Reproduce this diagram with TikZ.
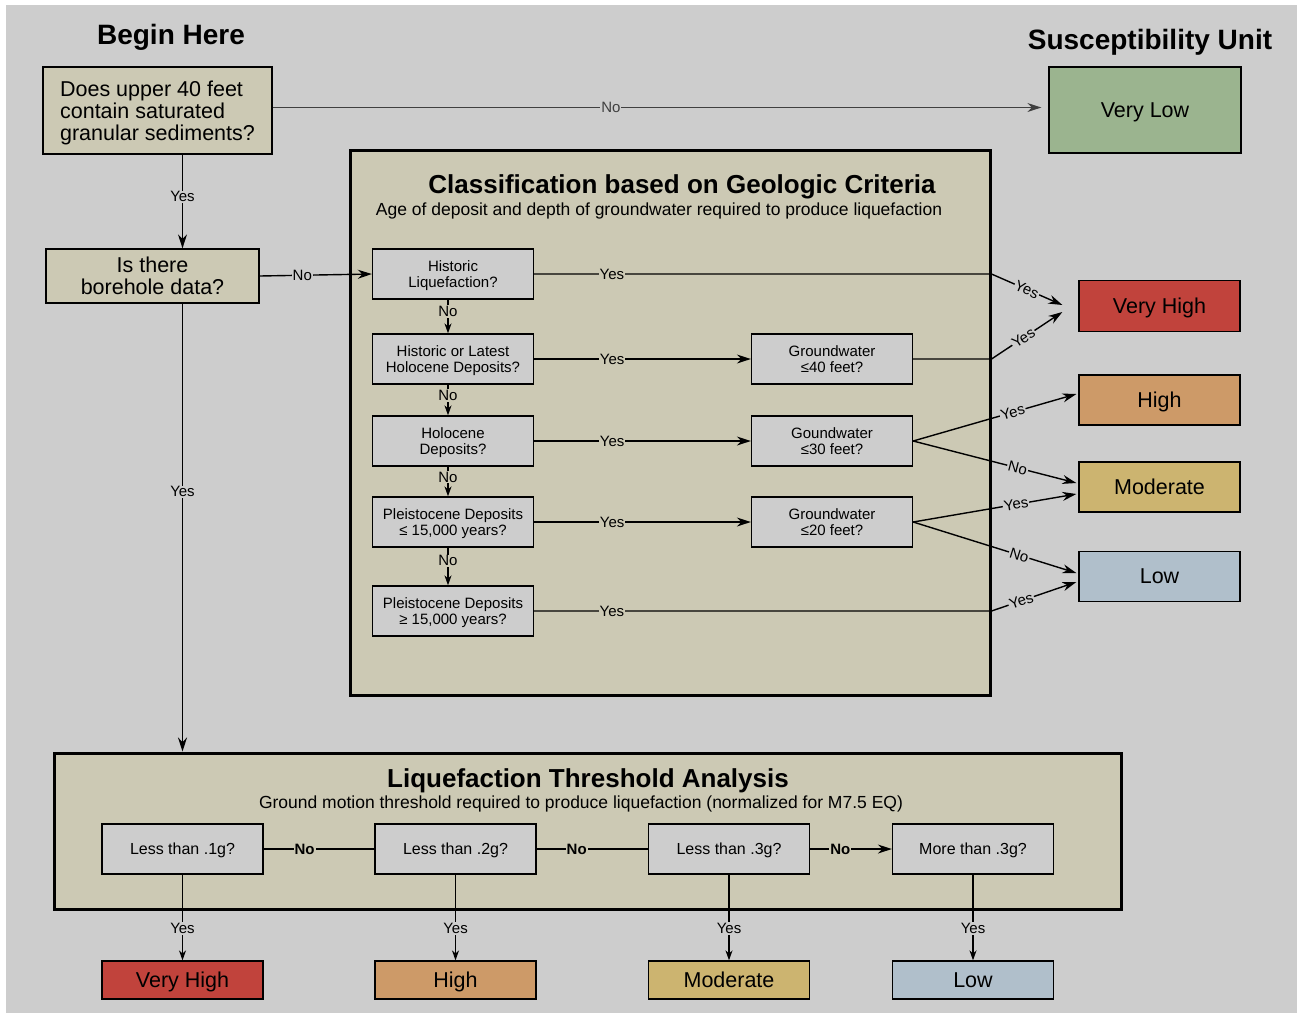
\documentclass[tikz,border=0pt]{standalone}
\usepackage{fontspec}
\setmainfont{Liberation Sans}
\usetikzlibrary{arrows.meta}
\definecolor{paper}{RGB}{205,205,205}
\definecolor{sand}{RGB}{204,201,180}
\definecolor{verylow}{RGB}{155,180,143}
\definecolor{veryhigh}{RGB}{193,67,60}
\definecolor{high}{RGB}{205,154,104}
\definecolor{moderate}{RGB}{204,180,112}
\definecolor{low}{RGB}{176,191,203}
\tikzset{
	heading/.style={
		font=\bfseries\fontsize{28}{30}\selectfont,
	},
	panel/.style={
		draw,
		line width=3pt,
		fill=sand,
		inner sep=0pt,
	},
	panelhead/.style={
		font=\bfseries\fontsize{26}{28}\selectfont,
	},
	panelsub/.style={
		font=\fontsize{17.5}{19}\selectfont,
	},
	start/.style={
		draw,
		line width=1.3pt,
		fill=sand,
		inner sep=0pt,
		text depth=0pt,
		align=center,
		font=\fontsize{21.5}{22}\selectfont,
	},
	outcome/.style={
		draw,
		line width=1.3pt,
		minimum width=161,
		minimum height=50,
		inner sep=0pt,
		text depth=0pt,
		font=\fontsize{21.5}{24}\selectfont,
	},
	question/.style={
		draw,
		line width=1.3pt,
		fill=paper,
		minimum width=161,
		minimum height=50,
		inner sep=0pt,
		text depth=0pt,
		align=center,
		font=\fontsize{15}{16}\selectfont,
	},
	gquestion/.style={
		question,
		font=\fontsize{16}{18}\selectfont,
	},
	line/.style={
		line width=1.4pt,
	},
	arr/.style={
		line width=1.4pt,
		-{Stealth[length=14pt,width=9pt]},
	},
	smallarr/.style={
		line width=1.4pt,
		-{Stealth[length=10pt,width=7pt]},
	},
	lbl/.style={
		fill=paper,
		inner sep=1pt,
		font=\fontsize{15}{16}\selectfont,
	},
	lblin/.style={
		lbl,
		fill=sand,
	},
}

\begin{document}
\begin{tikzpicture}[x=1pt,y=-1pt]
	\useasboundingbox (0,0) rectangle (1297,1013);
	\fill[white] (0,0) rectangle (1297,1013);
	\fill[paper] (6,5) rectangle (1297,1013);

	\node[heading] 			(begin) at (171,37) {Begin Here};
	\node[heading] 			(unit) at (1150,42) {Susceptibility Unit};

	\node[start,align=left,minimum width=229,minimum height=87] (upper) at (157.5,110.5) {Does upper 40 feet\\contain saturated\\granular sediments?};
	\node[start,minimum width=213,minimum height=54] (bore) at (152.5,276) {Is there\\borehole data?};
	\node[outcome,fill=verylow,minimum width=192,minimum height=86] (vlow) at (1145,110) {Very Low};

	\draw[arr,black!75] 	([yshift=3pt]upper.east) -- node[lbl,pos=0.44] {No} ([xshift=-7pt,yshift=3pt]upper.east -| vlow.west);
	\draw[arr] 					([xshift=25pt]upper.south) -- node[lbl,pos=0.45] {Yes} ([xshift=30pt]bore.north);

	% geologic criteria
	\node[panel,minimum width=640,minimum height=545] (geo) at (670,422.5) {};
	\node[panelhead] 		(geohead) at (682,187) {Classification based on Geologic Criteria};
	\node[panelsub] 		(geosub) at (659,211) {Age of deposit and depth of groundwater required to produce liquefaction};

	\node[question] 		(hist) at (453,274) {Historic\\Liquefaction?};
	\node[question] 		(latest) at (453,359) {Historic or Latest\\Holocene Deposits?};
	\node[question] 		(holo) at (453,441) {Holocene\\Deposits?};
	\node[question] 		(pleist) at (453,522) {Pleistocene Deposits\\≤ 15,000 years?};
	\node[question] 		(older) at (453,611) {Pleistocene Deposits\\≥ 15,000 years?};
	\node[question] 		(gw40) at (832,359) {Groundwater\\≤40 feet?};
	\node[question] 		(gw30) at (832,441) {Goundwater\\≤30 feet?};
	\node[question] 		(gw20) at (832,522) {Groundwater\\≤20 feet?};

	\draw[arr] 					(bore.east) -- node[lbl,pos=0.38] {No} (hist.west);

	\draw[smallarr] 		([xshift=-5pt]hist.south) -- node[lblin,pos=0.35] {No} ([xshift=-5pt]latest.north);
	\draw[smallarr] 		([xshift=-5pt]latest.south) -- node[lblin,pos=0.35] {No} ([xshift=-5pt]holo.north);
	\draw[smallarr] 		([xshift=-5pt]holo.south) -- node[lblin,pos=0.35] {No} ([xshift=-5pt]pleist.north);
	\draw[smallarr] 		([xshift=-5pt]pleist.south) -- node[lblin,pos=0.35] {No} ([xshift=-5pt]older.north);

	\draw[arr] 					(latest.east) -- node[lblin,pos=0.36] {Yes} (gw40.west);
	\draw[arr] 					(holo.east) -- node[lblin,pos=0.36] {Yes} (gw30.west);
	\draw[arr] 					(pleist.east) -- node[lblin,pos=0.36] {Yes} (gw20.west);

	% susceptibility units
	\node[outcome,fill=veryhigh,minimum height=51] (vhigh) at (1159.5,306) {Very High};
	\node[outcome,fill=high] 			(high) at (1159.5,400) {High};
	\node[outcome,fill=moderate] 	(mod) at (1159.5,487) {Moderate};
	\node[outcome,fill=low] 			(low) at (1159.5,576.5) {Low};

	\coordinate (vhin1) at ([xshift=-16pt,yshift=1pt]vhigh.west);
	\coordinate (vhin2) at ([xshift=-16pt,yshift=-6pt]vhigh.west);

	\draw[arr] 					(hist.east) -- node[lblin,pos=0.17] {Yes} (hist.east -| geo.east) -- node[lbl,sloped] {Yes} (vhin1);
	\draw[arr] 					(gw40.east) -- (gw40.east -| geo.east) -- node[lbl,sloped,pos=0.45] {Yes} (vhin2);
	\draw[arr] 					(gw30.east) -- node[lbl,sloped,pos=0.61] {Yes} ([xshift=-2pt,yshift=6pt]high.west);
	\draw[arr] 					(gw30.east) -- node[lbl,sloped,pos=0.64] {No} ([xshift=-2pt,yshift=4pt]mod.west);
	\draw[arr] 					(gw20.east) -- node[lbl,sloped,pos=0.63] {Yes} ([xshift=-2pt,yshift=-7pt]mod.west);
	\draw[arr] 					(gw20.east) -- node[lbl,sloped,pos=0.65] {No} ([xshift=-2pt,yshift=3.5pt]low.west);
	\draw[arr] 					(older.east) -- node[lblin,pos=0.17] {Yes} (older.east -| geo.east) -- node[lbl,sloped,pos=0.35] {Yes} ([xshift=-2pt,yshift=-5.5pt]low.west);

	% threshold analysis
	\node[panel,minimum width=1067,minimum height=156] (thr) at (587.5,831) {};
	\node[panelhead] 		(thrhead) at (588,781) {Liquefaction Threshold Analysis};
	\node[panelsub] 		(thrsub) at (581,804) {Ground motion threshold required to produce liquefaction (normalized for M7.5 EQ)};

	\draw[arr] 					([xshift=30pt]bore.south) -- node[lbl,pos=0.42] {Yes} ([xshift=30pt]bore.south |- thr.north);

	\node[gquestion] 		(g1) at (182.5,849) {Less than .1g?};
	\node[gquestion] 		(g2) at (455.5,849) {Less than .2g?};
	\node[gquestion] 		(g3) at (729,849) {Less than .3g?};
	\node[gquestion] 		(g4) at (973,849) {More than .3g?};

	\draw[line] 				(g1) -- node[lblin,pos=0.37,font=\bfseries\fontsize{15}{16}\selectfont] {No} (g2);
	\draw[line] 				(g2) -- node[lblin,pos=0.36,font=\bfseries\fontsize{15}{16}\selectfont] {No} (g3);
	\draw[arr] 					(g3) -- node[lblin,pos=0.37,font=\bfseries\fontsize{15}{16}\selectfont] {No} (g4);

	\node[outcome,fill=veryhigh,minimum height=38] (r1) at (182.5,980) {Very High};
	\node[outcome,fill=high,minimum height=38] 		(r2) at (455.5,980) {High};
	\node[outcome,fill=moderate,minimum height=38] (r3) at (729,980) {Moderate};
	\node[outcome,fill=low,minimum height=38] 		(r4) at (973,980) {Low};

	\draw[smallarr] 		(g1) -- node[lbl,pos=0.63] {Yes} (r1);
	\draw[smallarr] 		(g2) -- node[lbl,pos=0.63] {Yes} (r2);
	\draw[smallarr] 		(g3) -- node[lbl,pos=0.63] {Yes} (r3);
	\draw[smallarr] 		(g4) -- node[lbl,pos=0.63] {Yes} (r4);

\end{tikzpicture}
\end{document}
